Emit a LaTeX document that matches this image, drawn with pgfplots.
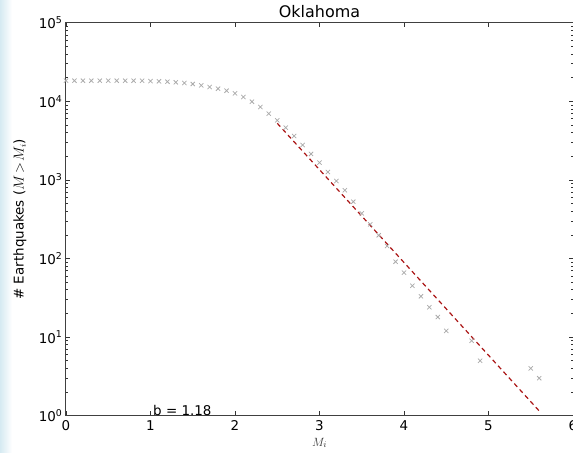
\documentclass[border=0pt]{standalone}
\usepackage{pgfplots}
\pgfplotsset{compat=1.18}
\usepackage{fontspec}
\setmainfont{DejaVu Sans}

\definecolor{fitred}{RGB}{170,20,20}
\definecolor{crossgray}{RGB}{170,170,170}
\definecolor{edgeblue}{RGB}{214,234,242}

\begin{document}
\begin{tikzpicture}
\useasboundingbox (-66bp,-37.3bp) rectangle (507bp,415.7bp);
\shade[left color=edgeblue, right color=white] (-66bp,-37.3bp) rectangle (-54bp,415.7bp);
\begin{axis}[
    at={(0,0)}, anchor=south west,
    scale only axis,
    width=507bp, height=393bp,
    xmin=0, xmax=6,
    ymode=log, ymin=1, ymax=1e5,
    xtick={0,1,2,3,4,5,6},
    ytick={1,10,100,1000,10000,100000},
    yticklabels={10\textsuperscript{0},10\textsuperscript{1},10\textsuperscript{2},10\textsuperscript{3},10\textsuperscript{4},10\textsuperscript{5}},
    minor ytick={2,3,4,5,6,7,8,9,20,30,40,50,60,70,80,90,200,300,400,500,600,700,800,900,2000,3000,4000,5000,6000,7000,8000,9000,20000,30000,40000,50000,60000,70000,80000,90000},
    tick align=inside,
    major tick length=4.4bp,
    minor tick length=2.2bp,
    tick style={black!80, line width=0.6bp},
    axis line style={black!75, line width=1bp},
    /pgf/number format/assume math mode=true,
    tick label style={font=\fontsize{13.5}{16}\selectfont},
    xticklabel style={yshift=-1.5bp},
    xlabel={$M_i$},
    xlabel style={at={(axis description cs:0.5,0)}, anchor=base, yshift=-30.5bp, font=\fontsize{12.5}{15}\selectfont, black!80},
    ylabel={\# Earthquakes ($M\!>\!M_i$)},
    ylabel style={at={(axis description cs:-0.0907,0.5)}, anchor=center, font=\fontsize{13.5}{16}\selectfont},
]
\addplot[only marks, mark=x, mark size=3bp, crossgray, mark options={line width=0.75bp}] coordinates {
    (0.0,18300) (0.1,18300) (0.2,18300) (0.3,18300) (0.4,18300)
    (0.5,18300) (0.6,18300) (0.7,18300) (0.8,18300) (0.9,18250)
    (1.0,18100) (1.1,17950) (1.2,17780) (1.3,17420) (1.4,17100)
    (1.5,16600) (1.6,15960) (1.7,15200) (1.8,14490) (1.9,13650)
    (2.0,12620) (2.1,11340) (2.2,9890) (2.3,8460) (2.4,6960)
    (2.5,5730) (2.6,4620) (2.7,3620) (2.8,2780) (2.9,2140)
    (3.0,1660) (3.1,1260) (3.2,968) (3.3,738) (3.4,528)
    (3.5,376) (3.6,272) (3.7,197) (3.8,144) (3.9,91)
    (4.0,66) (4.1,45) (4.2,33) (4.3,24) (4.4,18)
    (4.5,12) (4.8,9) (4.9,5) (5.5,4) (5.6,3)
};
\addplot[fitred, line width=1.2bp, dash pattern=on 4.5bp off 3.5bp] coordinates {
    (2.5,5250) (5.6,1.15)
};
\node[anchor=base west, inner sep=0pt, font=\fontsize{13.5}{16}\selectfont] at (axis cs:1.03,1) {b = 1.18};
\end{axis}
\node[anchor=base, inner sep=0pt, font=\fontsize{16}{19}\selectfont] at (253.5bp,398.5bp) {Oklahoma};
\end{tikzpicture}
\end{document}
